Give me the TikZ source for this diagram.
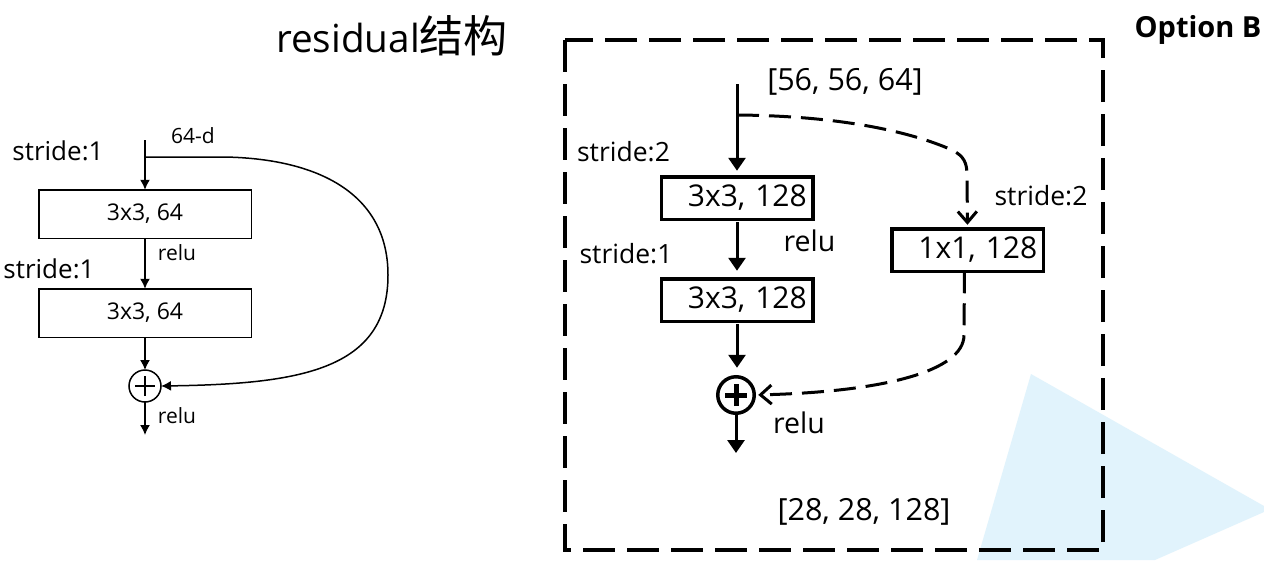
\documentclass[tikz,border=0pt]{standalone}
\usepackage{fontspec}
\setmainfont{Open Sans}
\newfontfamily\cjk{Noto Sans CJK SC}
\usetikzlibrary{arrows.meta}
\definecolor{bgblue}{HTML}{E1F3FC}
\begin{document}
\begin{tikzpicture}[x=1pt,y=-1pt,
  every node/.style={inner sep=0pt,outer sep=0pt},
  lbox/.style={draw,line width=1.5pt,minimum width=212.5pt,minimum height=48.5pt,font=\fontsize{23}{26}\selectfont},
  lsum/.style={draw,circle,line width=1.5pt,minimum size=32pt},
  larrow/.style={line width=1.5pt,-{Latex[length=10pt,width=10pt]}},
  ltxt/.style={font=\fontsize{26}{30}\selectfont},
  lsmall/.style={font=\fontsize{21}{24}\selectfont},
  rbox/.style={draw,line width=3.5pt,minimum width=151.5pt,minimum height=42.5pt,text width=139.5pt,inner xsep=6pt,align=right,font=\fontsize{30}{34}\selectfont},
  rsum/.style={draw,circle,line width=3.5pt,minimum size=36.5pt},
  rarrow/.style={line width=3pt,-{Triangle[length=13pt,width=17pt]}},
  rdash/.style={line width=3pt,dash pattern=on 22pt off 10pt,-{Straight Barb[length=11pt,width=19pt,line width=3pt]}},
  rtxt/.style={font=\fontsize{26.5}{30}\selectfont},
  rrelu/.style={font=\fontsize{28.5}{32}\selectfont},
  rbig/.style={font=\fontsize{30.5}{34}\selectfont},
  frame/.style={draw,line width=4pt,dash pattern=on 32pt off 12pt}
]
\useasboundingbox (0,0) rectangle (1264,560);
\fill[white] (0,0) rectangle (1264,560);
% background decoration
\fill[bgblue] (1031,374) -- (1264,506) -- (1264,512) -- (1155,560) -- (977,560) -- cycle;

% title
\node[anchor=base,font=\fontsize{38.7}{44}\selectfont] (title) at (392,52) {residual{\cjk\fontsize{44}{48}\selectfont 结构}};

% ---------- left block ----------
\coordinate (Lin) at (145,140);
\coordinate (Lsplit) at (145,157);
\node[lbox] (L1) at (145,214) {3x3, 64};
\node[lbox] (L2) at (145,313) {3x3, 64};
\node[lsum] (Lsum) at (145,386) {};
\coordinate (Lout) at (145,435);
\draw[line width=1.5pt] ([xshift=-10pt]Lsum.center) -- ([xshift=10pt]Lsum.center);
\draw[line width=1.5pt] ([yshift=-10pt]Lsum.center) -- ([yshift=10pt]Lsum.center);
\draw[larrow] (Lin) -- (L1.north);
\draw[larrow] (L1.south) -- (L2.north);
\draw[larrow] (L2.south) -- (Lsum.north);
\draw[larrow] (Lsum.south) -- (Lout);
\draw[larrow] (Lsplit) -- (225,157) .. controls (325,159) and (388,198) .. (388,275) .. controls (388,370) and (300,384) .. (Lsum.east);
\node[ltxt,anchor=base] (Ls1) at (58,160) {stride:1};
\node[lsmall,anchor=base] (Ld) at (193,143) {64-d};
\node[lsmall,anchor=base] (Lr1) at (177,260) {relu};
\node[ltxt,anchor=base] (Ls2) at (49,278) {stride:1};
\node[lsmall,anchor=base] (Lr2) at (177,423) {relu};

% ---------- right block ----------
\draw[frame] (565,40) rectangle (1103,550);
\node[anchor=base,font=\bfseries\fontsize{29}{33}\selectfont] (opt) at (1198,37) {Option B};
\node[rbig,anchor=base] (in) at (845,90) {[56, 56, 64]};
\node[rbig,anchor=base] (out) at (864,520) {[28, 28, 128]};
\coordinate (Rin) at (737,84);
\coordinate (Rsplit) at (737,115);
\node[rbox] (R1) at (737,198) {3x3, 128};
\node[rbox] (R2) at (737,300) {3x3, 128};
\node[rbox] (R3) at (967.5,250) {1x1, 128};
\node[rsum] (Rsum) at (736,395) {};
\coordinate (Rout) at (736,453);
\draw[line width=5pt] ([xshift=-11pt]Rsum.center) -- ([xshift=11pt]Rsum.center);
\draw[line width=5pt] ([yshift=-11pt]Rsum.center) -- ([yshift=11pt]Rsum.center);
\draw[rarrow,shorten >=6pt] (Rin) -- (R1.north);
\draw[rarrow,shorten <=3pt,shorten >=8pt] (R1.south) -- (R2.north);
\draw[rarrow,shorten <=3pt,shorten >=9pt] (R2.south) -- (R2.south |- Rsum.north);
\draw[rarrow] (Rsum.south) -- (Rout);
\draw[rdash,shorten >=4pt] (Rsplit) .. controls (860,116) and (925,138) .. (952,150) .. controls (964,156) and (967,163) .. (967,175) -- (R3.north);
\draw[rdash,shorten >=4pt] ([xshift=-3pt]R3.south) -- (964,335) .. controls (964,372) and (880,392) .. (Rsum.east);
\node[rtxt,anchor=base] (Rs1) at (623.5,161) {stride:2};
\node[rtxt,anchor=base] (Rs2) at (626,263) {stride:1};
\node[rtxt,anchor=base] (Rs3) at (1041,205) {stride:2};
\node[rrelu,anchor=base] (Rr1) at (809.5,251) {relu};
\node[rrelu,anchor=base] (Rr2) at (799,433) {relu};
\end{tikzpicture}
\end{document}
